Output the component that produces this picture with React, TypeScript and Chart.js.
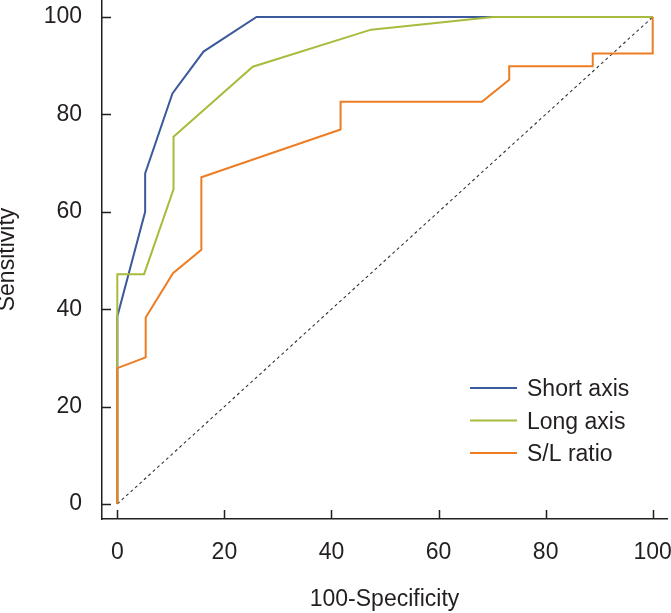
import React, { useEffect, useRef } from "react";
import { Chart, registerables } from "chart.js";

Chart.register(...registerables);

// ---- data ----
const seriesNames = ["Short axis", "Long axis", "S/L ratio"];
const shortAxisX = [0, 0, 5.2, 5.2, 10.3, 16.1, 26.0, 100];
const shortAxisY = [0, 38.5, 60.0, 67.9, 84.3, 92.9, 100, 100];
const longAxisX = [0, 0, 5.0, 10.5, 10.5, 25.3, 47.4, 70.2, 100];
const longAxisY = [0, 47.2, 47.2, 64.6, 75.4, 89.8, 97.4, 100, 100];
const ratioX = [0, 0, 5.3, 5.3, 10.4, 15.7, 15.7, 41.7, 41.7, 68.1, 73.2, 73.2, 88.8, 88.8, 100, 100];
const ratioY = [0, 27.9, 30.1, 38.3, 47.4, 52.2, 67.1, 76.9, 82.6, 82.6, 87.1, 89.9, 89.9, 92.5, 92.5, 100];
const refX = [0, 100];
const refY = [0, 100];
const xTicks = [0, 20, 40, 60, 80, 100];
const yTicks = [0, 20, 40, 60, 80, 100];
const xTitle = "100-Specificity";
const yTitle = "Sensitivity";

const colors = ["#3a5a9b", "#a9bb3d", "#ee7c22"];
const axisColor = "#231f20";
const FONT = "'Liberation Sans', Arial, sans-serif";
const FS = 23;

const toPts = (xs: number[], ys: number[]) => xs.map((x, i) => ({ x, y: ys[i] }));

const inwardTicks = {
  id: "inwardTicks",
  afterDraw(chart: any) {
    const { ctx, chartArea } = chart;
    const xs = chart.scales.x;
    const ys = chart.scales.y;
    ctx.save();
    ctx.strokeStyle = axisColor;
    ctx.lineWidth = 1.5;
    ctx.beginPath();
    xs.ticks.forEach((t: any) => {
      const px = Math.round(xs.getPixelForValue(t.value)) + 0.5;
      ctx.moveTo(px, chartArea.bottom);
      ctx.lineTo(px, chartArea.bottom - 9);
    });
    ys.ticks.forEach((t: any) => {
      const py = Math.round(ys.getPixelForValue(t.value)) + 0.5;
      ctx.moveTo(chartArea.left, py);
      ctx.lineTo(chartArea.left + 9, py);
    });
    ctx.stroke();
    ctx.restore();
  },
};

const innerLegend = {
  id: "innerLegend",
  afterDraw(chart: any) {
    const { ctx, chartArea } = chart;
    const x0 = chartArea.left + 368;
    const lineLen = 47;
    const y0 = chartArea.top + 388;
    const step = 32.5;
    ctx.save();
    ctx.font = `${FS}px ${FONT}`;
    ctx.textAlign = "left";
    ctx.textBaseline = "alphabetic";
    seriesNames.forEach((name, i) => {
      const y = y0 + i * step;
      ctx.strokeStyle = colors[i];
      ctx.lineWidth = 2;
      ctx.beginPath();
      ctx.moveTo(x0, y);
      ctx.lineTo(x0 + lineLen, y);
      ctx.stroke();
      ctx.fillStyle = axisColor;
      ctx.fillText(name, x0 + lineLen + 10, y + FS * 0.358);
    });
    ctx.restore();
  },
};

export default function App() {
  const ref = useRef<HTMLCanvasElement | null>(null);
  useEffect(() => {
    if (!ref.current) return;
    const chart = new Chart(ref.current, {
      type: "line",
      data: {
        datasets: [
          {
            label: seriesNames[0],
            data: toPts(shortAxisX, shortAxisY),
            borderColor: colors[0],
            borderWidth: 2,
            pointRadius: 0,
            tension: 0,
            fill: false,
            order: 3,
          },
          {
            label: seriesNames[1],
            data: toPts(longAxisX, longAxisY),
            borderColor: colors[1],
            borderWidth: 2,
            pointRadius: 0,
            tension: 0,
            fill: false,
            order: 2,
          },
          {
            label: seriesNames[2],
            data: toPts(ratioX, ratioY),
            borderColor: colors[2],
            borderWidth: 2,
            pointRadius: 0,
            tension: 0,
            fill: false,
            order: 1,
          },
          {
            label: "Reference",
            data: toPts(refX, refY),
            borderColor: "#333333",
            borderWidth: 1.1,
            borderDash: [3, 3],
            pointRadius: 0,
            tension: 0,
            fill: false,
            order: 4,
          },
        ],
      },
      options: {
        responsive: false,
        animation: false,
        events: [],
        layout: { padding: { top: 0, right: 4, bottom: 0, left: 0 } },
        plugins: { legend: { display: false }, tooltip: { enabled: false } },
        scales: {
          x: {
            type: "linear",
            min: -2.86,
            max: 102.67,
            grid: { display: false, drawTicks: false },
            border: { display: true, color: axisColor, width: 1.5 },
            afterBuildTicks: (s: any) => {
              s.ticks = xTicks.map((v) => ({ value: v }));
            },
            afterFit: (s: any) => {
              s.height = 94;
              s.paddingLeft = 0;
              s.paddingRight = 0;
            },
            ticks: {
              color: axisColor,
              padding: 19.8,
              maxRotation: 0,
              font: { family: FONT, size: FS },
            },
            title: {
              display: true,
              text: xTitle,
              color: axisColor,
              padding: 0,
              font: { family: FONT, size: FS, lineHeight: 1.2 },
            },
          },
          y: {
            type: "linear",
            min: -3.08,
            max: 103.49,
            grid: { display: false, drawTicks: false },
            border: { display: true, color: axisColor, width: 1.5 },
            afterBuildTicks: (s: any) => {
              s.ticks = yTicks.map((v) => ({ value: v }));
            },
            afterFit: (s: any) => {
              s.width = 102;
              s.paddingTop = 0;
              s.paddingBottom = 0;
            },
            ticks: {
              color: axisColor,
              padding: 20,
              font: { family: FONT, size: FS },
            },
            title: {
              display: true,
              text: yTitle,
              color: axisColor,
              padding: 0,
              font: { family: FONT, size: FS, lineHeight: 0.68 },
            },
          },
        },
      },
      plugins: [inwardTicks, innerLegend],
    });
    return () => chart.destroy();
  }, []);
  return (
    <div style={{ position: "absolute", left: 0, top: 0, width: 671, height: 613, background: "#fff" }}>
      <canvas ref={ref} width={671} height={613} style={{ display: "block" }} />
    </div>
  );
}
